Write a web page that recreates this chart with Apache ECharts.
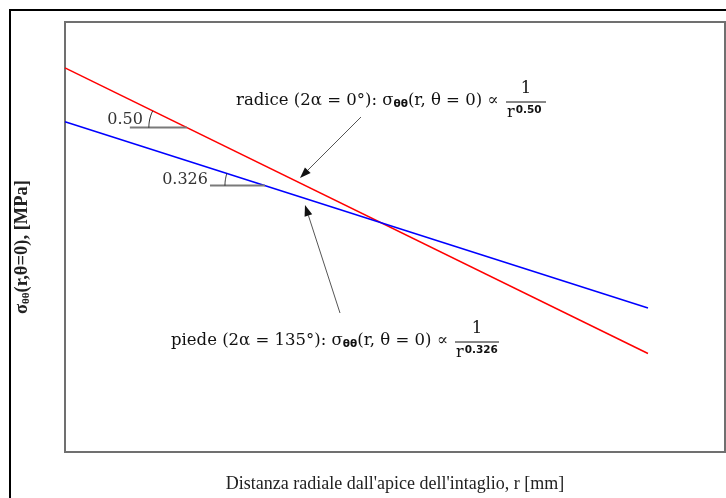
<!DOCTYPE html>
<html>
<head>
<meta charset="utf-8">
<script src="https://cdn.jsdelivr.net/npm/echarts@6/dist/echarts.min.js"></script>
<style>
  html, body { margin: 0; padding: 0; background: #fff; }
  #chart { width: 726px; height: 498px; }
</style>
</head>
<body>
<div id="chart"></div>
<script>
// Radial distance from the notch tip, r [mm] (end points of each power law)
const rValues = [0.01, 3.162];
// Stress sigma_theta-theta(r, theta = 0) [MPa] on log-log axes
const radiceStress = [62.97, 3.54];   // notch root, 2α = 0°, exponent 0.50
const piedeStress = [36.6, 5.60];     // notch foot, 2α = 135°, exponent 0.326
const slopeLabels = ['0.50', '0.326'];
const exponentLabels = ['0.50', '0.326'];
const xRange = [0.01, 6.764];
const yRange = [1.312, 100];

const serif = '"Liberation Serif", "DejaVu Serif", serif';
const mathSerif = '"DejaVu Serif", "Liberation Serif", serif';
const chart = echarts.init(document.getElementById('chart'));

chart.setOption({
  animation: false,
  grid: {
    left: 65, top: 22, right: 1, bottom: 44,
    show: true, borderColor: '#707070', borderWidth: 2, backgroundColor: 'transparent'
  },
  xAxis: {
    type: 'log', logBase: 10, min: xRange[0], max: xRange[1],
    axisLine: { show: false }, axisTick: { show: false },
    axisLabel: { show: false }, splitLine: { show: false },
    name: "Distanza radiale dall'apice dell'intaglio, r [mm]",
    nameLocation: 'middle', nameGap: 23,
    nameTextStyle: { fontFamily: serif, fontSize: 18, color: '#222' }
  },
  yAxis: {
    type: 'log', logBase: 10, min: yRange[0], max: yRange[1],
    axisLine: { show: false }, axisTick: { show: false },
    axisLabel: { show: false }, splitLine: { show: false },
    name: '{b|σ}{s|θθ}{b|(r,θ=0), [MPa]}',
    nameLocation: 'middle', nameGap: 33, nameRotate: 90,
    nameTextStyle: {
      padding: [0, 20, 0, 0],
      rich: {
        b: { fontFamily: serif, fontSize: 18.5, fontWeight: 'bold', color: '#222' },
        s: { fontFamily: serif, fontSize: 11, fontWeight: 'bold', color: '#222', verticalAlign: 'bottom', padding: [7, 0, 0, 0] }
      }
    }
  },
  series: [
    {
      name: 'radice', type: 'line', symbol: 'none',
      lineStyle: { color: '#ff0000', width: 1.5 },
      data: rValues.map((r, i) => [r, radiceStress[i]])
    },
    {
      name: 'piede', type: 'line', symbol: 'none',
      lineStyle: { color: '#0000ff', width: 1.5 },
      data: rValues.map((r, i) => [r, piedeStress[i]])
    }
  ]
});

// ---- annotations: slope markers, labels and arrows ----
function px(r, s) { return chart.convertToPixel({ gridIndex: 0 }, [r, s]); }

// point at fraction t along a drawn line (screen space)
function along(stress, t) {
  const a = px(rValues[0], stress[0]);
  const b = px(rValues[1], stress[1]);
  return { p: [a[0] + (b[0] - a[0]) * t, a[1] + (b[1] - a[1]) * t], a, b };
}

function slopeMarker(stress, t, lineLen, radius, label, labelDx, labelDy) {
  const { p, a } = along(stress, t);
  const tiltUp = Math.abs(Math.atan((p[1] - a[1]) / (p[0] - a[0])));
  // arc between the horizontal leg and the sloped line
  const pts = [];
  for (let i = 0; i <= 16; i++) {
    const ang = tiltUp * i / 16;
    pts.push([p[0] - radius * Math.cos(ang), p[1] - radius * Math.sin(ang)]);
  }
  return [
    { type: 'line', shape: { x1: p[0] - lineLen, y1: p[1], x2: p[0], y2: p[1] },
      style: { stroke: '#7a7a7a', lineWidth: 2 }, z: 5 },
    { type: 'polyline', shape: { points: pts },
      style: { stroke: '#222', lineWidth: 1, fill: null }, z: 5 },
    { type: 'text', x: p[0] - lineLen + labelDx, y: p[1] + labelDy,
      style: { text: label, font: '16px ' + mathSerif, fill: '#333', align: 'right', verticalAlign: 'middle' }, z: 5 }
  ];
}

function arrow(x1, y1, x2, y2) {
  const ang = Math.atan2(y2 - y1, x2 - x1);
  const L = 11, W = 4;
  const bx = x2 - L * Math.cos(ang), by = y2 - L * Math.sin(ang);
  const nx = -Math.sin(ang) * W, ny = Math.cos(ang) * W;
  return [
    { type: 'line', shape: { x1, y1, x2: bx, y2: by }, style: { stroke: '#555', lineWidth: 1 }, z: 5 },
    { type: 'polygon', shape: { points: [[x2, y2], [bx + nx, by + ny], [bx - nx, by - ny]] },
      style: { fill: '#111' }, z: 5 }
  ];
}

const headRich = {
  t: { font: '16.5px ' + mathSerif, fill: '#111' },
  s: { font: 'bold 10.5px "DejaVu Sans", sans-serif', fill: '#111', verticalAlign: 'bottom', padding: [7, 0, 0, 0] }
};

function formula(x, y, head, exponent, fracX, barW) {
  return {
    type: 'group', z: 6,
    children: [
      { type: 'text', x, y,
        style: { text: head, rich: headRich, align: 'left', verticalAlign: 'middle' } },
      { type: 'text', x: fracX + barW / 2, y: y - 12,
        style: { text: '1', font: '16.5px ' + mathSerif, fill: '#111', align: 'center', verticalAlign: 'middle' } },
      { type: 'line', shape: { x1: fracX, y1: y + 1, x2: fracX + barW, y2: y + 1 }, style: { stroke: '#111', lineWidth: 1 } },
      { type: 'text', x: fracX + 1, y: y + 12,
        style: { text: '{r|r}{e|' + exponent + '}', align: 'left', verticalAlign: 'middle',
          rich: {
            r: { font: '16px ' + mathSerif, fill: '#111' },
            e: { font: 'bold 10.5px "DejaVu Sans", sans-serif', fill: '#111', verticalAlign: 'top', padding: [0, 0, 5, 1] }
          } } }
    ]
  };
}

const graphics = [
  // page frame
  { type: 'rect', shape: { x: 10, y: 10, width: 800, height: 600 },
    style: { stroke: '#000', lineWidth: 2, fill: null }, z: 1, silent: true },
  ...slopeMarker(radiceStress, 0.209, 57, 38, slopeLabels[0], 13, -8),
  ...slopeMarker(piedeStress, 0.343, 55, 40, slopeLabels[1], -2, -6),
  formula(236, 101, '{t|radice (2α = 0°): σ}{s|θθ}{t|(r, θ = 0) ∝}', exponentLabels[0], 506, 40),
  formula(171, 341, '{t|piede (2α = 135°): σ}{s|θθ}{t|(r, θ = 0) ∝}', exponentLabels[1], 455, 44),
  ...arrow(361, 117, 300, 178),
  ...arrow(340, 313, 305, 205)
];
chart.setOption({ graphic: { elements: graphics } });
</script>
</body>
</html>
